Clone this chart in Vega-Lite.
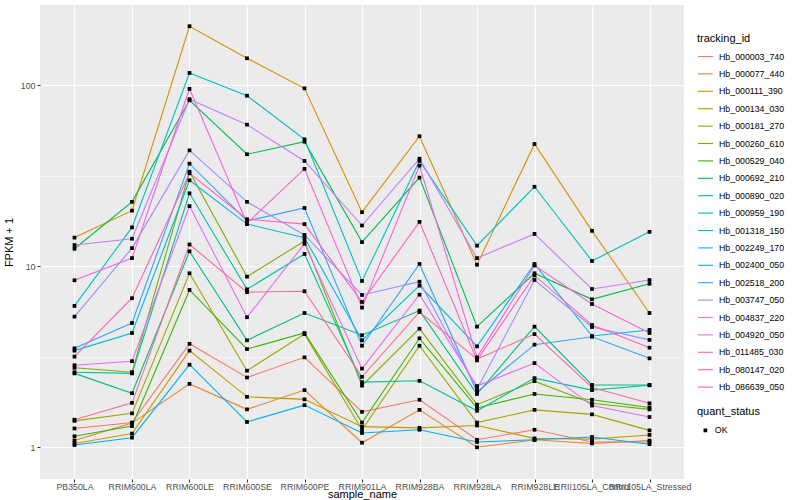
{
  "$schema": "https://vega.github.io/schema/vega-lite/v6.json",
  "autosize": {"type": "none"},
  "padding": {"left": 40, "top": 5, "right": 116, "bottom": 21},
  "width": 644,
  "height": 474,
  "background": "white",
  "config": {
    "view": {"fill": "#EBEBEB", "stroke": null},
    "font": "Liberation Sans",
    "axis": {"domain": false, "labelFont": "Liberation Sans", "titleFont": "Liberation Sans", "labelColor": "#4D4D4D", "labelFontSize": 8.8, "titleFontSize": 11, "titleFontWeight": "normal", "titleColor": "black", "gridColor": "white", "tickColor": "#333333", "tickSize": 3, "labelPadding": 2},
    "legend": {"labelFont": "Liberation Sans", "titleFont": "Liberation Sans", "labelFontSize": 8.8, "titleFontSize": 11, "titleFontWeight": "normal", "labelColor": "black"}
  },
  "data": {"values": [
{"tracking_id":"Hb_000003_740","sample_name":"PB350LA","fpkm":1.27,"quant_status":"OK"},
{"tracking_id":"Hb_000003_740","sample_name":"RRIM600LA","fpkm":1.37,"quant_status":"OK"},
{"tracking_id":"Hb_000003_740","sample_name":"RRIM600LE","fpkm":3.73,"quant_status":"OK"},
{"tracking_id":"Hb_000003_740","sample_name":"RRIM600SE","fpkm":2.43,"quant_status":"OK"},
{"tracking_id":"Hb_000003_740","sample_name":"RRIM600PE","fpkm":3.14,"quant_status":"OK"},
{"tracking_id":"Hb_000003_740","sample_name":"RRIM901LA","fpkm":1.57,"quant_status":"OK"},
{"tracking_id":"Hb_000003_740","sample_name":"RRIM928BA","fpkm":1.83,"quant_status":"OK"},
{"tracking_id":"Hb_000003_740","sample_name":"RRIM928LA","fpkm":1.1,"quant_status":"OK"},
{"tracking_id":"Hb_000003_740","sample_name":"RRIM928LE","fpkm":1.25,"quant_status":"OK"},
{"tracking_id":"Hb_000003_740","sample_name":"RRII105LA_Control","fpkm":1.07,"quant_status":"OK"},
{"tracking_id":"Hb_000003_740","sample_name":"RRII105LA_Stressed","fpkm":1.07,"quant_status":"OK"},
{"tracking_id":"Hb_000077_440","sample_name":"PB350LA","fpkm":1.09,"quant_status":"OK"},
{"tracking_id":"Hb_000077_440","sample_name":"RRIM600LA","fpkm":1.36,"quant_status":"OK"},
{"tracking_id":"Hb_000077_440","sample_name":"RRIM600LE","fpkm":2.24,"quant_status":"OK"},
{"tracking_id":"Hb_000077_440","sample_name":"RRIM600SE","fpkm":1.62,"quant_status":"OK"},
{"tracking_id":"Hb_000077_440","sample_name":"RRIM600PE","fpkm":2.07,"quant_status":"OK"},
{"tracking_id":"Hb_000077_440","sample_name":"RRIM901LA","fpkm":1.06,"quant_status":"OK"},
{"tracking_id":"Hb_000077_440","sample_name":"RRIM928BA","fpkm":1.61,"quant_status":"OK"},
{"tracking_id":"Hb_000077_440","sample_name":"RRIM928LA","fpkm":1.0,"quant_status":"OK"},
{"tracking_id":"Hb_000077_440","sample_name":"RRIM928LE","fpkm":1.1,"quant_status":"OK"},
{"tracking_id":"Hb_000077_440","sample_name":"RRII105LA_Control","fpkm":1.05,"quant_status":"OK"},
{"tracking_id":"Hb_000077_440","sample_name":"RRII105LA_Stressed","fpkm":1.09,"quant_status":"OK"},
{"tracking_id":"Hb_000111_390","sample_name":"PB350LA","fpkm":14.4,"quant_status":"OK"},
{"tracking_id":"Hb_000111_390","sample_name":"RRIM600LA","fpkm":20.3,"quant_status":"OK"},
{"tracking_id":"Hb_000111_390","sample_name":"RRIM600LE","fpkm":212,"quant_status":"OK"},
{"tracking_id":"Hb_000111_390","sample_name":"RRIM600SE","fpkm":141,"quant_status":"OK"},
{"tracking_id":"Hb_000111_390","sample_name":"RRIM600PE","fpkm":96.2,"quant_status":"OK"},
{"tracking_id":"Hb_000111_390","sample_name":"RRIM901LA","fpkm":19.9,"quant_status":"OK"},
{"tracking_id":"Hb_000111_390","sample_name":"RRIM928BA","fpkm":52.3,"quant_status":"OK"},
{"tracking_id":"Hb_000111_390","sample_name":"RRIM928LA","fpkm":10.2,"quant_status":"OK"},
{"tracking_id":"Hb_000111_390","sample_name":"RRIM928LE","fpkm":47.4,"quant_status":"OK"},
{"tracking_id":"Hb_000111_390","sample_name":"RRII105LA_Control","fpkm":15.7,"quant_status":"OK"},
{"tracking_id":"Hb_000111_390","sample_name":"RRII105LA_Stressed","fpkm":5.52,"quant_status":"OK"},
{"tracking_id":"Hb_000134_030","sample_name":"PB350LA","fpkm":1.05,"quant_status":"OK"},
{"tracking_id":"Hb_000134_030","sample_name":"RRIM600LA","fpkm":1.19,"quant_status":"OK"},
{"tracking_id":"Hb_000134_030","sample_name":"RRIM600LE","fpkm":3.42,"quant_status":"OK"},
{"tracking_id":"Hb_000134_030","sample_name":"RRIM600SE","fpkm":1.9,"quant_status":"OK"},
{"tracking_id":"Hb_000134_030","sample_name":"RRIM600PE","fpkm":1.84,"quant_status":"OK"},
{"tracking_id":"Hb_000134_030","sample_name":"RRIM901LA","fpkm":1.3,"quant_status":"OK"},
{"tracking_id":"Hb_000134_030","sample_name":"RRIM928BA","fpkm":1.28,"quant_status":"OK"},
{"tracking_id":"Hb_000134_030","sample_name":"RRIM928LA","fpkm":1.32,"quant_status":"OK"},
{"tracking_id":"Hb_000134_030","sample_name":"RRIM928LE","fpkm":1.12,"quant_status":"OK"},
{"tracking_id":"Hb_000134_030","sample_name":"RRII105LA_Control","fpkm":1.11,"quant_status":"OK"},
{"tracking_id":"Hb_000134_030","sample_name":"RRII105LA_Stressed","fpkm":1.17,"quant_status":"OK"},
{"tracking_id":"Hb_000181_270","sample_name":"PB350LA","fpkm":1.4,"quant_status":"OK"},
{"tracking_id":"Hb_000181_270","sample_name":"RRIM600LA","fpkm":1.54,"quant_status":"OK"},
{"tracking_id":"Hb_000181_270","sample_name":"RRIM600LE","fpkm":9.15,"quant_status":"OK"},
{"tracking_id":"Hb_000181_270","sample_name":"RRIM600SE","fpkm":2.65,"quant_status":"OK"},
{"tracking_id":"Hb_000181_270","sample_name":"RRIM600PE","fpkm":4.22,"quant_status":"OK"},
{"tracking_id":"Hb_000181_270","sample_name":"RRIM901LA","fpkm":1.25,"quant_status":"OK"},
{"tracking_id":"Hb_000181_270","sample_name":"RRIM928BA","fpkm":3.64,"quant_status":"OK"},
{"tracking_id":"Hb_000181_270","sample_name":"RRIM928LA","fpkm":1.37,"quant_status":"OK"},
{"tracking_id":"Hb_000181_270","sample_name":"RRIM928LE","fpkm":1.61,"quant_status":"OK"},
{"tracking_id":"Hb_000181_270","sample_name":"RRII105LA_Control","fpkm":1.52,"quant_status":"OK"},
{"tracking_id":"Hb_000181_270","sample_name":"RRII105LA_Stressed","fpkm":1.24,"quant_status":"OK"},
{"tracking_id":"Hb_000260_610","sample_name":"PB350LA","fpkm":2.75,"quant_status":"OK"},
{"tracking_id":"Hb_000260_610","sample_name":"RRIM600LA","fpkm":2.6,"quant_status":"OK"},
{"tracking_id":"Hb_000260_610","sample_name":"RRIM600LE","fpkm":33.3,"quant_status":"OK"},
{"tracking_id":"Hb_000260_610","sample_name":"RRIM600SE","fpkm":8.76,"quant_status":"OK"},
{"tracking_id":"Hb_000260_610","sample_name":"RRIM600PE","fpkm":13.8,"quant_status":"OK"},
{"tracking_id":"Hb_000260_610","sample_name":"RRIM901LA","fpkm":2.19,"quant_status":"OK"},
{"tracking_id":"Hb_000260_610","sample_name":"RRIM928BA","fpkm":4.52,"quant_status":"OK"},
{"tracking_id":"Hb_000260_610","sample_name":"RRIM928LA","fpkm":1.72,"quant_status":"OK"},
{"tracking_id":"Hb_000260_610","sample_name":"RRIM928LE","fpkm":2.32,"quant_status":"OK"},
{"tracking_id":"Hb_000260_610","sample_name":"RRII105LA_Control","fpkm":1.75,"quant_status":"OK"},
{"tracking_id":"Hb_000260_610","sample_name":"RRII105LA_Stressed","fpkm":1.62,"quant_status":"OK"},
{"tracking_id":"Hb_000529_040","sample_name":"PB350LA","fpkm":1.15,"quant_status":"OK"},
{"tracking_id":"Hb_000529_040","sample_name":"RRIM600LA","fpkm":1.31,"quant_status":"OK"},
{"tracking_id":"Hb_000529_040","sample_name":"RRIM600LE","fpkm":7.4,"quant_status":"OK"},
{"tracking_id":"Hb_000529_040","sample_name":"RRIM600SE","fpkm":3.49,"quant_status":"OK"},
{"tracking_id":"Hb_000529_040","sample_name":"RRIM600PE","fpkm":4.28,"quant_status":"OK"},
{"tracking_id":"Hb_000529_040","sample_name":"RRIM901LA","fpkm":1.37,"quant_status":"OK"},
{"tracking_id":"Hb_000529_040","sample_name":"RRIM928BA","fpkm":4.0,"quant_status":"OK"},
{"tracking_id":"Hb_000529_040","sample_name":"RRIM928LA","fpkm":1.65,"quant_status":"OK"},
{"tracking_id":"Hb_000529_040","sample_name":"RRIM928LE","fpkm":1.97,"quant_status":"OK"},
{"tracking_id":"Hb_000529_040","sample_name":"RRII105LA_Control","fpkm":1.83,"quant_status":"OK"},
{"tracking_id":"Hb_000529_040","sample_name":"RRII105LA_Stressed","fpkm":1.66,"quant_status":"OK"},
{"tracking_id":"Hb_000692_210","sample_name":"PB350LA","fpkm":12.5,"quant_status":"OK"},
{"tracking_id":"Hb_000692_210","sample_name":"RRIM600LA","fpkm":22.7,"quant_status":"OK"},
{"tracking_id":"Hb_000692_210","sample_name":"RRIM600LE","fpkm":82.6,"quant_status":"OK"},
{"tracking_id":"Hb_000692_210","sample_name":"RRIM600SE","fpkm":41.6,"quant_status":"OK"},
{"tracking_id":"Hb_000692_210","sample_name":"RRIM600PE","fpkm":48.8,"quant_status":"OK"},
{"tracking_id":"Hb_000692_210","sample_name":"RRIM901LA","fpkm":13.6,"quant_status":"OK"},
{"tracking_id":"Hb_000692_210","sample_name":"RRIM928BA","fpkm":30.9,"quant_status":"OK"},
{"tracking_id":"Hb_000692_210","sample_name":"RRIM928LA","fpkm":4.64,"quant_status":"OK"},
{"tracking_id":"Hb_000692_210","sample_name":"RRIM928LE","fpkm":9.15,"quant_status":"OK"},
{"tracking_id":"Hb_000692_210","sample_name":"RRII105LA_Control","fpkm":6.57,"quant_status":"OK"},
{"tracking_id":"Hb_000692_210","sample_name":"RRII105LA_Stressed","fpkm":8.01,"quant_status":"OK"},
{"tracking_id":"Hb_000890_020","sample_name":"PB350LA","fpkm":2.56,"quant_status":"OK"},
{"tracking_id":"Hb_000890_020","sample_name":"RRIM600LA","fpkm":1.99,"quant_status":"OK"},
{"tracking_id":"Hb_000890_020","sample_name":"RRIM600LE","fpkm":12.1,"quant_status":"OK"},
{"tracking_id":"Hb_000890_020","sample_name":"RRIM600SE","fpkm":3.9,"quant_status":"OK"},
{"tracking_id":"Hb_000890_020","sample_name":"RRIM600PE","fpkm":5.52,"quant_status":"OK"},
{"tracking_id":"Hb_000890_020","sample_name":"RRIM901LA","fpkm":4.16,"quant_status":"OK"},
{"tracking_id":"Hb_000890_020","sample_name":"RRIM928BA","fpkm":5.69,"quant_status":"OK"},
{"tracking_id":"Hb_000890_020","sample_name":"RRIM928LA","fpkm":1.97,"quant_status":"OK"},
{"tracking_id":"Hb_000890_020","sample_name":"RRIM928LE","fpkm":4.64,"quant_status":"OK"},
{"tracking_id":"Hb_000890_020","sample_name":"RRII105LA_Control","fpkm":2.21,"quant_status":"OK"},
{"tracking_id":"Hb_000890_020","sample_name":"RRII105LA_Stressed","fpkm":2.21,"quant_status":"OK"},
{"tracking_id":"Hb_000959_190","sample_name":"PB350LA","fpkm":2.6,"quant_status":"OK"},
{"tracking_id":"Hb_000959_190","sample_name":"RRIM600LA","fpkm":2.56,"quant_status":"OK"},
{"tracking_id":"Hb_000959_190","sample_name":"RRIM600LE","fpkm":25.3,"quant_status":"OK"},
{"tracking_id":"Hb_000959_190","sample_name":"RRIM600SE","fpkm":7.46,"quant_status":"OK"},
{"tracking_id":"Hb_000959_190","sample_name":"RRIM600PE","fpkm":11.7,"quant_status":"OK"},
{"tracking_id":"Hb_000959_190","sample_name":"RRIM901LA","fpkm":2.29,"quant_status":"OK"},
{"tracking_id":"Hb_000959_190","sample_name":"RRIM928BA","fpkm":2.33,"quant_status":"OK"},
{"tracking_id":"Hb_000959_190","sample_name":"RRIM928LA","fpkm":1.59,"quant_status":"OK"},
{"tracking_id":"Hb_000959_190","sample_name":"RRIM928LE","fpkm":2.41,"quant_status":"OK"},
{"tracking_id":"Hb_000959_190","sample_name":"RRII105LA_Control","fpkm":2.07,"quant_status":"OK"},
{"tracking_id":"Hb_000959_190","sample_name":"RRII105LA_Stressed","fpkm":2.2,"quant_status":"OK"},
{"tracking_id":"Hb_001318_150","sample_name":"PB350LA","fpkm":6.04,"quant_status":"OK"},
{"tracking_id":"Hb_001318_150","sample_name":"RRIM600LA","fpkm":16.4,"quant_status":"OK"},
{"tracking_id":"Hb_001318_150","sample_name":"RRIM600LE","fpkm":117,"quant_status":"OK"},
{"tracking_id":"Hb_001318_150","sample_name":"RRIM600SE","fpkm":87.6,"quant_status":"OK"},
{"tracking_id":"Hb_001318_150","sample_name":"RRIM600PE","fpkm":50.3,"quant_status":"OK"},
{"tracking_id":"Hb_001318_150","sample_name":"RRIM901LA","fpkm":8.3,"quant_status":"OK"},
{"tracking_id":"Hb_001318_150","sample_name":"RRIM928BA","fpkm":38.2,"quant_status":"OK"},
{"tracking_id":"Hb_001318_150","sample_name":"RRIM928LA","fpkm":13,"quant_status":"OK"},
{"tracking_id":"Hb_001318_150","sample_name":"RRIM928LE","fpkm":27.5,"quant_status":"OK"},
{"tracking_id":"Hb_001318_150","sample_name":"RRII105LA_Control","fpkm":10.7,"quant_status":"OK"},
{"tracking_id":"Hb_001318_150","sample_name":"RRII105LA_Stressed","fpkm":15.5,"quant_status":"OK"},
{"tracking_id":"Hb_002249_170","sample_name":"PB350LA","fpkm":3.42,"quant_status":"OK"},
{"tracking_id":"Hb_002249_170","sample_name":"RRIM600LA","fpkm":4.28,"quant_status":"OK"},
{"tracking_id":"Hb_002249_170","sample_name":"RRIM600LE","fpkm":29.9,"quant_status":"OK"},
{"tracking_id":"Hb_002249_170","sample_name":"RRIM600SE","fpkm":17.1,"quant_status":"OK"},
{"tracking_id":"Hb_002249_170","sample_name":"RRIM600PE","fpkm":14.4,"quant_status":"OK"},
{"tracking_id":"Hb_002249_170","sample_name":"RRIM901LA","fpkm":3.9,"quant_status":"OK"},
{"tracking_id":"Hb_002249_170","sample_name":"RRIM928BA","fpkm":7.82,"quant_status":"OK"},
{"tracking_id":"Hb_002249_170","sample_name":"RRIM928LA","fpkm":3.61,"quant_status":"OK"},
{"tracking_id":"Hb_002249_170","sample_name":"RRIM928LE","fpkm":10.3,"quant_status":"OK"},
{"tracking_id":"Hb_002249_170","sample_name":"RRII105LA_Control","fpkm":4.12,"quant_status":"OK"},
{"tracking_id":"Hb_002249_170","sample_name":"RRII105LA_Stressed","fpkm":4.45,"quant_status":"OK"},
{"tracking_id":"Hb_002400_050","sample_name":"PB350LA","fpkm":1.03,"quant_status":"OK"},
{"tracking_id":"Hb_002400_050","sample_name":"RRIM600LA","fpkm":1.13,"quant_status":"OK"},
{"tracking_id":"Hb_002400_050","sample_name":"RRIM600LE","fpkm":2.86,"quant_status":"OK"},
{"tracking_id":"Hb_002400_050","sample_name":"RRIM600SE","fpkm":1.38,"quant_status":"OK"},
{"tracking_id":"Hb_002400_050","sample_name":"RRIM600PE","fpkm":1.71,"quant_status":"OK"},
{"tracking_id":"Hb_002400_050","sample_name":"RRIM901LA","fpkm":1.2,"quant_status":"OK"},
{"tracking_id":"Hb_002400_050","sample_name":"RRIM928BA","fpkm":1.25,"quant_status":"OK"},
{"tracking_id":"Hb_002400_050","sample_name":"RRIM928LA","fpkm":1.07,"quant_status":"OK"},
{"tracking_id":"Hb_002400_050","sample_name":"RRIM928LE","fpkm":1.1,"quant_status":"OK"},
{"tracking_id":"Hb_002400_050","sample_name":"RRII105LA_Control","fpkm":1.14,"quant_status":"OK"},
{"tracking_id":"Hb_002400_050","sample_name":"RRII105LA_Stressed","fpkm":1.04,"quant_status":"OK"},
{"tracking_id":"Hb_002518_200","sample_name":"PB350LA","fpkm":3.52,"quant_status":"OK"},
{"tracking_id":"Hb_002518_200","sample_name":"RRIM600LA","fpkm":4.86,"quant_status":"OK"},
{"tracking_id":"Hb_002518_200","sample_name":"RRIM600LE","fpkm":36.9,"quant_status":"OK"},
{"tracking_id":"Hb_002518_200","sample_name":"RRIM600SE","fpkm":17.8,"quant_status":"OK"},
{"tracking_id":"Hb_002518_200","sample_name":"RRIM600PE","fpkm":21,"quant_status":"OK"},
{"tracking_id":"Hb_002518_200","sample_name":"RRIM901LA","fpkm":3.64,"quant_status":"OK"},
{"tracking_id":"Hb_002518_200","sample_name":"RRIM928BA","fpkm":10.3,"quant_status":"OK"},
{"tracking_id":"Hb_002518_200","sample_name":"RRIM928LA","fpkm":2.02,"quant_status":"OK"},
{"tracking_id":"Hb_002518_200","sample_name":"RRIM928LE","fpkm":3.69,"quant_status":"OK"},
{"tracking_id":"Hb_002518_200","sample_name":"RRII105LA_Control","fpkm":4.08,"quant_status":"OK"},
{"tracking_id":"Hb_002518_200","sample_name":"RRII105LA_Stressed","fpkm":3.1,"quant_status":"OK"},
{"tracking_id":"Hb_003747_050","sample_name":"PB350LA","fpkm":5.27,"quant_status":"OK"},
{"tracking_id":"Hb_003747_050","sample_name":"RRIM600LA","fpkm":12.6,"quant_status":"OK"},
{"tracking_id":"Hb_003747_050","sample_name":"RRIM600LE","fpkm":43.7,"quant_status":"OK"},
{"tracking_id":"Hb_003747_050","sample_name":"RRIM600SE","fpkm":22.7,"quant_status":"OK"},
{"tracking_id":"Hb_003747_050","sample_name":"RRIM600PE","fpkm":14.9,"quant_status":"OK"},
{"tracking_id":"Hb_003747_050","sample_name":"RRIM901LA","fpkm":6.94,"quant_status":"OK"},
{"tracking_id":"Hb_003747_050","sample_name":"RRIM928BA","fpkm":8.22,"quant_status":"OK"},
{"tracking_id":"Hb_003747_050","sample_name":"RRIM928LA","fpkm":2.09,"quant_status":"OK"},
{"tracking_id":"Hb_003747_050","sample_name":"RRIM928LE","fpkm":8.4,"quant_status":"OK"},
{"tracking_id":"Hb_003747_050","sample_name":"RRII105LA_Control","fpkm":4.62,"quant_status":"OK"},
{"tracking_id":"Hb_003747_050","sample_name":"RRII105LA_Stressed","fpkm":3.92,"quant_status":"OK"},
{"tracking_id":"Hb_004837_220","sample_name":"PB350LA","fpkm":13.1,"quant_status":"OK"},
{"tracking_id":"Hb_004837_220","sample_name":"RRIM600LA","fpkm":14.2,"quant_status":"OK"},
{"tracking_id":"Hb_004837_220","sample_name":"RRIM600LE","fpkm":83.8,"quant_status":"OK"},
{"tracking_id":"Hb_004837_220","sample_name":"RRIM600SE","fpkm":60.6,"quant_status":"OK"},
{"tracking_id":"Hb_004837_220","sample_name":"RRIM600PE","fpkm":38.2,"quant_status":"OK"},
{"tracking_id":"Hb_004837_220","sample_name":"RRIM901LA","fpkm":16.8,"quant_status":"OK"},
{"tracking_id":"Hb_004837_220","sample_name":"RRIM928BA","fpkm":39.3,"quant_status":"OK"},
{"tracking_id":"Hb_004837_220","sample_name":"RRIM928LA","fpkm":11.1,"quant_status":"OK"},
{"tracking_id":"Hb_004837_220","sample_name":"RRIM928LE","fpkm":15.1,"quant_status":"OK"},
{"tracking_id":"Hb_004837_220","sample_name":"RRII105LA_Control","fpkm":7.49,"quant_status":"OK"},
{"tracking_id":"Hb_004837_220","sample_name":"RRII105LA_Stressed","fpkm":8.4,"quant_status":"OK"},
{"tracking_id":"Hb_004920_050","sample_name":"PB350LA","fpkm":2.84,"quant_status":"OK"},
{"tracking_id":"Hb_004920_050","sample_name":"RRIM600LA","fpkm":2.99,"quant_status":"OK"},
{"tracking_id":"Hb_004920_050","sample_name":"RRIM600LE","fpkm":21.5,"quant_status":"OK"},
{"tracking_id":"Hb_004920_050","sample_name":"RRIM600SE","fpkm":5.23,"quant_status":"OK"},
{"tracking_id":"Hb_004920_050","sample_name":"RRIM600PE","fpkm":13.3,"quant_status":"OK"},
{"tracking_id":"Hb_004920_050","sample_name":"RRIM901LA","fpkm":2.72,"quant_status":"OK"},
{"tracking_id":"Hb_004920_050","sample_name":"RRIM928BA","fpkm":6.97,"quant_status":"OK"},
{"tracking_id":"Hb_004920_050","sample_name":"RRIM928LA","fpkm":2.18,"quant_status":"OK"},
{"tracking_id":"Hb_004920_050","sample_name":"RRIM928LE","fpkm":2.92,"quant_status":"OK"},
{"tracking_id":"Hb_004920_050","sample_name":"RRII105LA_Control","fpkm":1.7,"quant_status":"OK"},
{"tracking_id":"Hb_004920_050","sample_name":"RRII105LA_Stressed","fpkm":1.47,"quant_status":"OK"},
{"tracking_id":"Hb_011485_030","sample_name":"PB350LA","fpkm":8.37,"quant_status":"OK"},
{"tracking_id":"Hb_011485_030","sample_name":"RRIM600LA","fpkm":11.1,"quant_status":"OK"},
{"tracking_id":"Hb_011485_030","sample_name":"RRIM600LE","fpkm":95.5,"quant_status":"OK"},
{"tracking_id":"Hb_011485_030","sample_name":"RRIM600SE","fpkm":17.3,"quant_status":"OK"},
{"tracking_id":"Hb_011485_030","sample_name":"RRIM600PE","fpkm":34.5,"quant_status":"OK"},
{"tracking_id":"Hb_011485_030","sample_name":"RRIM901LA","fpkm":5.91,"quant_status":"OK"},
{"tracking_id":"Hb_011485_030","sample_name":"RRIM928BA","fpkm":36,"quant_status":"OK"},
{"tracking_id":"Hb_011485_030","sample_name":"RRIM928LA","fpkm":3.14,"quant_status":"OK"},
{"tracking_id":"Hb_011485_030","sample_name":"RRIM928LE","fpkm":10.1,"quant_status":"OK"},
{"tracking_id":"Hb_011485_030","sample_name":"RRII105LA_Control","fpkm":6.19,"quant_status":"OK"},
{"tracking_id":"Hb_011485_030","sample_name":"RRII105LA_Stressed","fpkm":4.28,"quant_status":"OK"},
{"tracking_id":"Hb_080147_020","sample_name":"PB350LA","fpkm":3.17,"quant_status":"OK"},
{"tracking_id":"Hb_080147_020","sample_name":"RRIM600LA","fpkm":6.66,"quant_status":"OK"},
{"tracking_id":"Hb_080147_020","sample_name":"RRIM600LE","fpkm":32.6,"quant_status":"OK"},
{"tracking_id":"Hb_080147_020","sample_name":"RRIM600SE","fpkm":18.2,"quant_status":"OK"},
{"tracking_id":"Hb_080147_020","sample_name":"RRIM600PE","fpkm":17.1,"quant_status":"OK"},
{"tracking_id":"Hb_080147_020","sample_name":"RRIM901LA","fpkm":6.35,"quant_status":"OK"},
{"tracking_id":"Hb_080147_020","sample_name":"RRIM928BA","fpkm":17.6,"quant_status":"OK"},
{"tracking_id":"Hb_080147_020","sample_name":"RRIM928LA","fpkm":3.02,"quant_status":"OK"},
{"tracking_id":"Hb_080147_020","sample_name":"RRIM928LE","fpkm":8.9,"quant_status":"OK"},
{"tracking_id":"Hb_080147_020","sample_name":"RRII105LA_Control","fpkm":4.74,"quant_status":"OK"},
{"tracking_id":"Hb_080147_020","sample_name":"RRII105LA_Stressed","fpkm":3.55,"quant_status":"OK"},
{"tracking_id":"Hb_086639_050","sample_name":"PB350LA","fpkm":1.42,"quant_status":"OK"},
{"tracking_id":"Hb_086639_050","sample_name":"RRIM600LA","fpkm":1.76,"quant_status":"OK"},
{"tracking_id":"Hb_086639_050","sample_name":"RRIM600LE","fpkm":13.2,"quant_status":"OK"},
{"tracking_id":"Hb_086639_050","sample_name":"RRIM600SE","fpkm":7.2,"quant_status":"OK"},
{"tracking_id":"Hb_086639_050","sample_name":"RRIM600PE","fpkm":7.28,"quant_status":"OK"},
{"tracking_id":"Hb_086639_050","sample_name":"RRIM901LA","fpkm":2.45,"quant_status":"OK"},
{"tracking_id":"Hb_086639_050","sample_name":"RRIM928BA","fpkm":5.59,"quant_status":"OK"},
{"tracking_id":"Hb_086639_050","sample_name":"RRIM928LA","fpkm":3.07,"quant_status":"OK"},
{"tracking_id":"Hb_086639_050","sample_name":"RRIM928LE","fpkm":4.22,"quant_status":"OK"},
{"tracking_id":"Hb_086639_050","sample_name":"RRII105LA_Control","fpkm":2.14,"quant_status":"OK"},
{"tracking_id":"Hb_086639_050","sample_name":"RRII105LA_Stressed","fpkm":1.75,"quant_status":"OK"}
  ]},
  "encoding": {
    "x": {
      "field": "sample_name", "type": "nominal",
      "sort": ["PB350LA","RRIM600LA","RRIM600LE","RRIM600SE","RRIM600PE","RRIM901LA","RRIM928BA","RRIM928LA","RRIM928LE","RRII105LA_Control","RRII105LA_Stressed"],
      "scale": {"type": "point", "padding": 0.6},
      "axis": {"title": "sample_name", "labelAngle": 0, "grid": true, "gridWidth": 1.1, "labelOverlap": false, "labelPadding": 0, "titleY": 18.5, "titleBaseline": "alphabetic"}
    },
    "y": {
      "field": "fpkm", "type": "quantitative",
      "scale": {"type": "log", "domain": [0.668, 277.7], "nice": false, "zero": false},
      "axis": {
        "title": "FPKM + 1",
        "values": [1, 3.1623, 10, 31.623, 100],
        "labelExpr": "datum.value == 1 ? '1' : datum.value == 10 ? '10' : datum.value == 100 ? '100' : ''",
        "labelOverlap": false,
        "grid": true,
        "gridWidth": {"condition": {"test": "datum.value == 1 || datum.value == 10 || datum.value == 100", "value": 1.1}, "value": 0.5},
        "tickColor": {"condition": {"test": "datum.value == 1 || datum.value == 10 || datum.value == 100", "value": "#333333"}, "value": "transparent"},
        "titlePadding": 6
      }
    }
  },
  "layer": [
    {
      "mark": {"type": "line", "strokeWidth": 1.1},
      "encoding": {
        "color": {
          "field": "tracking_id", "type": "nominal",
          "scale": {
            "domain": ["Hb_000003_740","Hb_000077_440","Hb_000111_390","Hb_000134_030","Hb_000181_270","Hb_000260_610","Hb_000529_040","Hb_000692_210","Hb_000890_020","Hb_000959_190","Hb_001318_150","Hb_002249_170","Hb_002400_050","Hb_002518_200","Hb_003747_050","Hb_004837_220","Hb_004920_050","Hb_011485_030","Hb_080147_020","Hb_086639_050"],
            "range": ["#F8766D","#EA8331","#D89000","#C09B00","#A3A500","#7CAE00","#39B600","#00BB4E","#00BF7D","#00C1A3","#00BFC4","#00BAE0","#00B0F6","#35A2FF","#9590FF","#C77CFF","#E76BF3","#FA62DB","#FF62BC","#FF6C91"]
          },
          "legend": {"title": "tracking_id", "orient": "none", "legendX": 657, "legendY": 28, "symbolType": "stroke", "symbolSize": 225, "symbolStrokeWidth": 1.1, "rowPadding": 3.4, "titlePadding": 4, "labelOffset": 5}
        },
        "order": {"value": null}
      }
    },
    {
      "mark": {"type": "point", "filled": true, "color": "black", "opacity": 1, "size": 14},
      "encoding": {
        "shape": {
          "field": "quant_status", "type": "nominal",
          "scale": {"range": ["square"]},
          "legend": {"title": "quant_status", "orient": "none", "legendX": 657, "legendY": 401, "symbolSize": 14, "symbolFillColor": "black", "symbolStrokeColor": "black", "titlePadding": 9, "labelOffset": 5, "symbolOffset": 4}
        }
      }
    }
  ]
}
